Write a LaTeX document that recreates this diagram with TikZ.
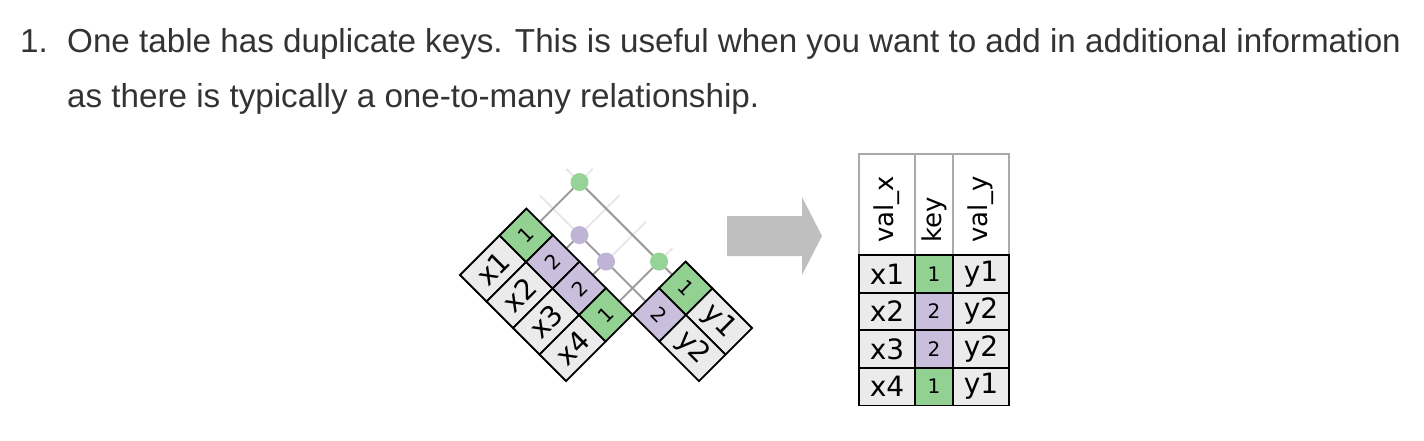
\documentclass[tikz,border=0pt]{standalone}
\usepackage{fontspec}
\setmainfont{Liberation Sans}
\newfontfamily\cellfont{DejaVu Sans}
\usetikzlibrary{calc}
\definecolor{keygreen}{HTML}{93D193}
\definecolor{keypurple}{HTML}{C9BEDC}
\definecolor{cellgray}{HTML}{EBEBEB}
\definecolor{dotgreen}{HTML}{95D396}
\definecolor{dotpurple}{HTML}{BFB4D6}
\definecolor{linkgray}{HTML}{999999}
\definecolor{faintgray}{HTML}{E6E6E6}
\definecolor{arrowgray}{HTML}{BFBFBF}
\definecolor{textgray}{HTML}{333333}
\definecolor{headgray}{HTML}{AAAAAA}
\pgfdeclarelayer{bg}
\pgfsetlayers{bg,main}
\begin{document}
\begin{tikzpicture}[x=1pt,y=1pt,
  cellbase/.style={draw=black, line width=1.8pt, inner sep=0pt, minimum height=37.5pt,
    font=\cellfont\fontsize{28}{28}\selectfont},
  valcell/.style={cellbase, fill=cellgray, minimum width=56pt},
  keyg/.style={cellbase, fill=keygreen, minimum width=38pt, font=\cellfont\fontsize{20}{20}\selectfont},
  keyp/.style={keyg, fill=keypurple},
  dotg/.style={circle, fill=dotgreen, minimum size=18pt, inner sep=0pt},
  dotp/.style={dotg, fill=dotpurple},
  link/.style={draw=linkgray, line width=1.8pt},
  faint/.style={draw=faintgray, line width=1.8pt},
  headcell/.style={draw=headgray, line width=1.8pt, fill=white, inner sep=0pt, minimum height=101pt},
  headtext/.style={inner sep=0pt, anchor=west, rotate=90, font=\cellfont\fontsize{26}{26}\selectfont},
  prose/.style={anchor=base west, inner sep=0pt, text=textgray, font=\fontsize{33.2}{40}\selectfont}
]
\useasboundingbox (0,0) rectangle (1424,-440);

% prose
\node[prose] (num) at (20,-52) {1.};
\node[prose] (line1) at (67,-52) {One table has duplicate keys. This is useful when you want to add in additional information};
\node[prose] (line2) at (67,-107) {as there is typically a one-to-many relationship.};

% x table (rotated)
\begin{scope}[shift={(460,-275)}, rotate=45, transform shape]
  \node[valcell] (xv1) at (28,-18.75) {x1};
  \node[keyg]    (xk1) at (75,-18.75) {1};
  \node[valcell] (xv2) at (28,-56.25) {x2};
  \node[keyp]    (xk2) at (75,-56.25) {2};
  \node[valcell] (xv3) at (28,-93.75) {x3};
  \node[keyp]    (xk3) at (75,-93.75) {2};
  \node[valcell] (xv4) at (28,-131.25) {x4};
  \node[keyg]    (xk4) at (75,-131.25) {1};
  \node[dotg] (d11) at (150.25,-18.75) {};
  \node[dotp] (d22) at (112.75,-56.25) {};
  \node[dotp] (d32) at (112.75,-93.75) {};
  \node[dotg] (d41) at (150.25,-131.25) {};
  \coordinate (fx1) at (169,-18.75);
  \coordinate (fx2) at (169,-56.25);
  \coordinate (fx3) at (169,-93.75);
  \coordinate (fx4) at (169,-131.25);
  \coordinate (fy1) at (150.25,0);
  \coordinate (fy2) at (112.75,0);
  \coordinate (T) at (169,-150);
\end{scope}

% y table (rotated)
\begin{scope}[shift={(T)}, rotate=-45, transform shape]
  \node[keyg]    (yk1) at (19,-18.75) {1};
  \node[valcell] (yv1) at (66,-18.75) {y1};
  \node[keyp]    (yk2) at (19,-56.25) {2};
  \node[valcell] (yv2) at (66,-56.25) {y2};
\end{scope}

% links
\begin{pgfonlayer}{bg}
  \foreach \i in {1,2,3,4} { \draw[faint] (xk\i.east) -- (fx\i); }
  \draw[faint] (yk1.west) -- (fy1);
  \draw[faint] (yk2.west) -- (fy2);
  \draw[link] (xk1.east) -- (d11.center);
  \draw[link] (xk2.east) -- (d22.center);
  \draw[link] (xk3.east) -- (d32.center);
  \draw[link] (xk4.east) -- (d41.center);
  \draw[link] (yk1.west) -- (d41.center) -- (d11.center);
  \draw[link] (yk2.west) -- (d32.center) -- (d22.center);
\end{pgfonlayer}

% arrow
\fill[arrowgray] (727,-216) -- (802,-216) -- (802,-197) -- (822,-236)
  -- (802,-275) -- (802,-256) -- (727,-256) -- cycle;

% result table
\node[headcell, minimum width=56pt] (hx) at (887,-204.5) {};
\node[headcell, minimum width=38pt] (hk) at (934,-204.5) {};
\node[headcell, minimum width=56pt] (hy) at (981,-204.5) {};
\node[headtext] (hxt) at (887,-243) {val\_x};
\node[headtext] (hkt) at (934,-243) {key};
\node[headtext] (hyt) at (981,-243) {val\_y};

\node[valcell, minimum height=37.6pt] (r1x) at (887,-273.8) {x1};
\node[keyg, minimum height=37.6pt]    (r1k) at (934,-273.8) {1};
\node[valcell, minimum height=37.6pt] (r1y) at (981,-273.8) {y1};
\node[valcell, minimum height=37.6pt] (r2x) at (887,-311.4) {x2};
\node[keyp, minimum height=37.6pt]    (r2k) at (934,-311.4) {2};
\node[valcell, minimum height=37.6pt] (r2y) at (981,-311.4) {y2};
\node[valcell, minimum height=37.6pt] (r3x) at (887,-349) {x3};
\node[keyp, minimum height=37.6pt]    (r3k) at (934,-349) {2};
\node[valcell, minimum height=37.6pt] (r3y) at (981,-349) {y2};
\node[valcell, minimum height=37.6pt] (r4x) at (887,-386.6) {x4};
\node[keyg, minimum height=37.6pt]    (r4k) at (934,-386.6) {1};
\node[valcell, minimum height=37.6pt] (r4y) at (981,-386.6) {y1};
\end{tikzpicture}
\end{document}
